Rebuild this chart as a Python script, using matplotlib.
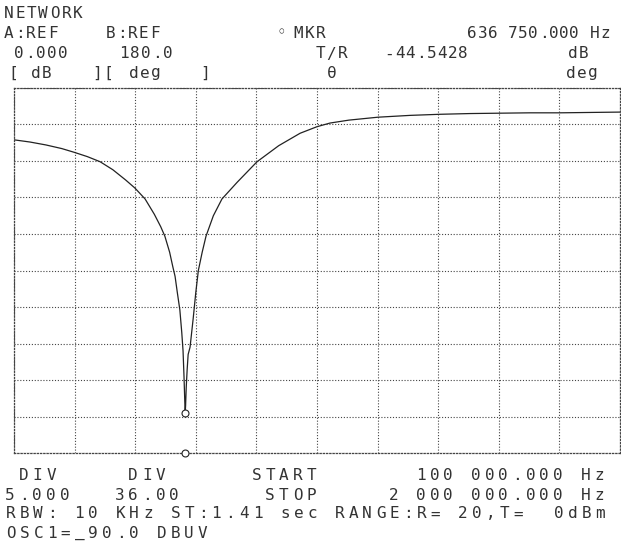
import numpy as np
import matplotlib.pyplot as plt

# trace A: |T/R| in dB vs frequency (kHz)
freq_khz = [100, 150, 200, 250, 288, 330, 370, 410, 450, 479, 511, 540, 560, 573,
            588, 598, 605, 612, 620, 626, 630, 633, 635.5, 636.75, 638, 640, 643,
            646, 652, 662, 670, 678, 690, 702, 725, 752, 800, 862, 930, 997, 1050,
            1091, 1150, 1241, 1342, 1436, 1530, 1624, 1718, 1812, 1906, 2000]
mag_db = [-7.1, -7.4, -7.8, -8.3, -8.8, -9.4, -10.1, -11.2, -12.6, -13.7, -15.2, -17.3, -19.0, -20.3,
          -22.5, -24.5, -25.8, -28.0, -30.4, -33.5, -36.0, -39.5, -43.0, -44.5, -43.5, -41.0, -38.5,
          -36.5, -35.5, -31.5, -28.0, -25.0, -22.5, -20.3, -17.5, -15.2, -12.9, -10.1, -7.9, -6.2, -5.3,
          -4.8, -4.4, -4.0, -3.75, -3.6, -3.5, -3.45, -3.4, -3.4, -3.35, -3.3]

mkr_khz = 636.75
mkr_db = -44.5428
start_khz, stop_khz = 100, 2000
ref_db, div_db = 0.0, 5.0

# screen annotations: (text, left x px, centre y px, char pitch px)
header = [
    ("NETWORK", 3, 14, 11.5),
    ("A:REF", 3, 34, 11), ("B:REF", 105, 34, 11), ("\u25e6", 276, 33, 11), ("MKR", 293, 34, 11),
    ("636 750.000 Hz", 467, 34, 10.2),
    ("0.000", 13, 54, 11), ("180.0", 118, 54, 11), ("T/R", 315, 54, 11),
    ("-44.5428", 384, 54, 10.5), ("dB", 567, 54, 11),
    ("[", 8, 73, 11), ("dB", 30, 73, 11), ("][", 92, 73, 11), ("deg", 128, 73, 11),
    ("]", 200, 73, 11), ("\u03b8", 326, 73, 11), ("deg", 565, 73, 11),
]
footer = [
    (" DIV     DIV      START       100 000.000 Hz", 3, 476, 13.7),
    ("5.000   36.00      STOP     2 000 000.000 Hz", 3, 495, 13.7),
    ("RBW: 10 KHz ST:1.41 sec RANGE:R= 20,T=  0dBm", 4, 514, 13.7),
    ("OSC1=_90.0 DBUV", 4, 533, 13.7),
]

W, H = 621, 552
fig = plt.figure(figsize=(W / 100, H / 100), dpi=100)
fig.patch.set_facecolor("white")
ax = fig.add_axes([14 / W, 1 - 453 / H, 606 / W, 365 / H])

ax.plot(freq_khz, mag_db, color="#222222", lw=0.9)
ax.plot([mkr_khz], [mkr_db], marker="o", ms=5, mfc="white", mec="#222222", mew=0.8)
ax.plot([mkr_khz], [ref_db - 10 * div_db], marker="o", ms=5, mfc="white", mec="#222222",
        mew=0.8, clip_on=False, zorder=5)

ax.set_xlim(start_khz, stop_khz)
ax.set_ylim(ref_db - 10 * div_db, ref_db)
ax.set_xticks(np.linspace(start_khz, stop_khz, 11))
ax.set_yticks(np.linspace(ref_db - 10 * div_db, ref_db, 11))
ax.tick_params(length=0, labelbottom=False, labelleft=False)
ax.grid(True, color="#444444", lw=0.8, linestyle=(0, (1, 1.6)))
for s in ax.spines.values():
    s.set_linestyle((0, (1, 1.6)))
    s.set_color("#444444")
    s.set_linewidth(0.9)

font = dict(family="DejaVu Sans Mono", fontsize=11.5, color="#333333",
            ha="center", va="center")


def screen_text(s, x0, y, pitch):
    # plotter output: every character sits in its own fixed-width cell
    for i, ch in enumerate(s):
        if ch != " ":
            fig.text((x0 + (i + 0.5) * pitch) / W, 1 - y / H, ch, **font)


for s, x0, y, pitch in header:
    screen_text(s, x0, y, pitch)
for s, x0, y, pitch in footer:
    screen_text(s, x0, y, pitch)

fig.savefig("out.png", dpi=100)
